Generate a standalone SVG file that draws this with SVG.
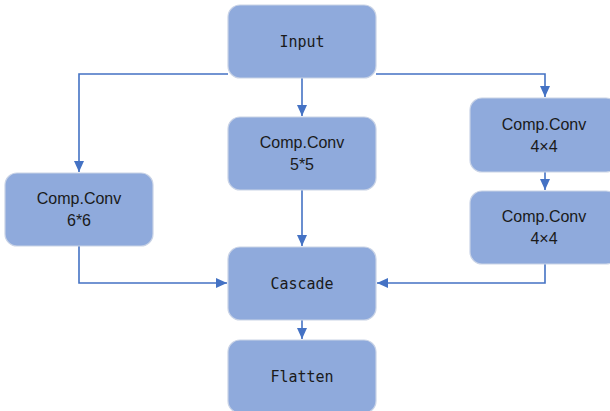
<svg xmlns="http://www.w3.org/2000/svg" width="610" height="411" viewBox="0 0 610 411">
<style>
.box{fill:#8FAADC;stroke:#C9D3E6;stroke-width:1.2}
.mono{font-family:"DejaVu Sans Mono","Liberation Mono",monospace;font-size:15px;fill:#1a1a1a;text-anchor:middle}
.sans{font-family:"Liberation Sans","Noto Sans",sans-serif;font-size:16px;fill:#1a1a1a;text-anchor:middle}
.wire{fill:none;stroke:#4472C4;stroke-width:1.6}
</style>
<defs>
<marker id="arr" markerWidth="12" markerHeight="12" refX="11" refY="5.5" orient="auto" markerUnits="userSpaceOnUse">
<path d="M0,0.5 L11,5.5 L0,10.5 Z" fill="#4472C4"/>
</marker>
</defs>
<rect width="610" height="411" fill="#ffffff"/>
<g id="connectors">
<path class="wire" d="M228,74 H79 V172" marker-end="url(#arr)"/>
<path class="wire" d="M302,78 V116" marker-end="url(#arr)"/>
<path class="wire" d="M376,74 H545 V97" marker-end="url(#arr)"/>
<path class="wire" d="M545,172 V190" marker-end="url(#arr)"/>
<path class="wire" d="M79,246 V283 H227" marker-end="url(#arr)"/>
<path class="wire" d="M302,190 V246" marker-end="url(#arr)"/>
<path class="wire" d="M545,264 V283 H377" marker-end="url(#arr)"/>
<path class="wire" d="M302,320 V339" marker-end="url(#arr)"/>
</g>
<g id="input">
<rect class="box" x="228" y="5" width="148" height="73" rx="12"/>
<text class="mono" x="302" y="47">Input</text>
</g>
<g id="conv55">
<rect class="box" x="228" y="117" width="148" height="73" rx="12"/>
<text class="sans" x="302" y="148">Comp.Conv</text>
<text class="sans" x="302" y="170">5*5</text>
</g>
<g id="conv66">
<rect class="box" x="5" y="173" width="148" height="73" rx="12"/>
<text class="sans" x="79" y="204">Comp.Conv</text>
<text class="sans" x="79" y="226">6*6</text>
</g>
<g id="conv44a">
<rect class="box" x="470" y="98" width="148" height="74" rx="12"/>
<text class="sans" x="544" y="130">Comp.Conv</text>
<text class="sans" x="544" y="152">4×4</text>
</g>
<g id="conv44b">
<rect class="box" x="470" y="191" width="148" height="73" rx="12"/>
<text class="sans" x="544" y="222">Comp.Conv</text>
<text class="sans" x="544" y="244">4×4</text>
</g>
<g id="cascade">
<rect class="box" x="228" y="247" width="148" height="73" rx="12"/>
<text class="mono" x="302" y="289">Cascade</text>
</g>
<g id="flatten">
<rect class="box" x="228" y="340" width="148" height="73" rx="12"/>
<text class="mono" x="302" y="382">Flatten</text>
</g>
</svg>
